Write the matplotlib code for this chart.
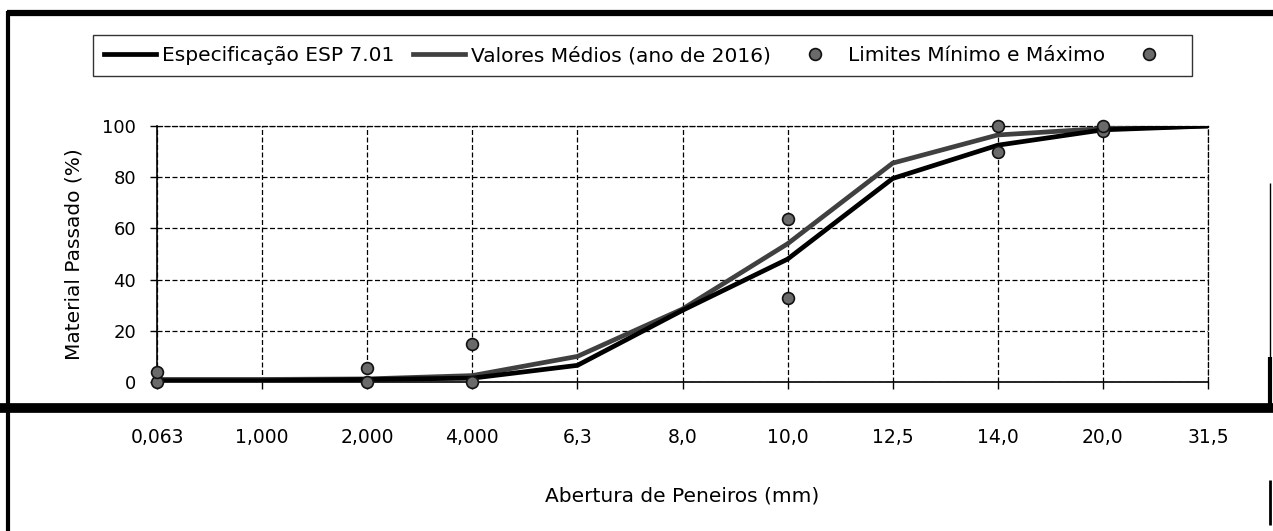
import matplotlib
matplotlib.use("Agg")
import matplotlib.pyplot as plt
from matplotlib.lines import Line2D
import numpy as np

# Sieve openings (categorical axis)
peneiros = ["0,063", "1,000", "2,000", "4,000", "6,3", "8,0", "10,0", "12,5", "14,0", "20,0", "31,5"]

# Grading curves (% passing)
especificacao = [0.5, 0.5, 1.0, 1.5, 6.5, 28.0, 48.0, 79.5, 92.5, 98.5, 100.0]
valores_medios = [1.0, 1.0, 1.2, 2.5, 10.0, 28.5, 54.0, 85.5, 96.5, 99.0, 100.0]

# Min / max limits (None where no limit is given)
limite_min = [0.0, None, 0.0, 0.0, None, None, 33.0, None, 90.0, 98.0, None]
limite_max = [4.0, None, 5.5, 15.0, None, None, 63.5, None, 100.0, 100.0, None]

W, H, DPI = 1273, 531, 100
fig = plt.figure(figsize=(W / DPI, H / DPI), dpi=DPI)
plt.rcParams["font.family"] = ["DejaVu Sans"]

# axes placed in pixel terms
x0, x1, ytop, ybot = 157, 1208, 126, 382
ax = fig.add_axes([x0 / W, 1 - ybot / H, (x1 - x0) / W, (ybot - ytop) / H])

x = np.arange(len(peneiros))

h1, = ax.plot(x, especificacao, color="black", lw=3.4, zorder=4, solid_joinstyle="miter")
h2, = ax.plot(x, valores_medios, color="#404040", lw=3.4, zorder=3, solid_joinstyle="miter")

def pts(vals):
    xs = [i for i, v in enumerate(vals) if v is not None]
    ys = [v for v in vals if v is not None]
    return xs, ys

xm, ym = pts(limite_min)
xM, yM = pts(limite_max)
mk = dict(marker="o", linestyle="none", markersize=8.5, markerfacecolor="#6a6a6a",
          markeredgecolor="#111111", markeredgewidth=1.2, zorder=5, clip_on=False)
h3, = ax.plot(xm, ym, **mk)
h4, = ax.plot(xM, yM, **mk)

ax.set_xlim(0, len(peneiros) - 1)
ax.set_ylim(0, 100)
ax.set_xticks(x)
ax.set_xticklabels(peneiros)
ax.set_yticks([0, 20, 40, 60, 80, 100])

dash = (0, (4, 2))
ax.grid(True, color="black", linestyle=dash, linewidth=0.9)
ax.set_axisbelow(True)
for side in ("top", "right"):
    ax.spines[side].set_linestyle(dash)
    ax.spines[side].set_linewidth(0.9)
ax.spines["left"].set_linewidth(1.2)
ax.spines["bottom"].set_linewidth(1.2)

ax.tick_params(axis="x", direction="out", length=5, width=1, labelsize=13.5, pad=28)
ax.tick_params(axis="y", direction="out", length=5, width=1, labelsize=13, pad=10)

ax.set_xlabel("Abertura de Peneiros (mm)", fontsize=14.5)
ax.xaxis.set_label_coords(0.5, (ybot - 487) / (ybot - ytop))
ax.set_ylabel("Material Passado (%)", fontsize=14.5)
ax.yaxis.set_label_coords((83 - x0) / (x1 - x0), 0.5)

leg = fig.legend([h1, h2, h3, h4],
                 ["Especificação ESP 7.01", "Valores Médios (ano de 2016)",
                  "Limites Mínimo e Máximo", ""],
                 loc="center", bbox_to_anchor=((95 + 1190) / 2 / W, 1 - 55.5 / H),
                 ncol=4, fontsize=14.5, frameon=True, fancybox=False, handlelength=2.6,
                 handletextpad=0.3, columnspacing=0.9, borderpad=0.55)
leg.get_frame().set_edgecolor("black")
leg.get_frame().set_linewidth(1.0)

# page frame lines around the chart
def fline(xa, ya, lw):
    fig.add_artist(Line2D([v / W for v in xa], [1 - v / H for v in ya],
                          color="black", linewidth=lw, solid_capstyle="butt"))

fline([7, W], [13, 13], 4.5)
fline([0, W], [407.5, 407.5], 7.0)
fline([8, 8], [11, H], 3.0)
fline([1270, 1270], [183, 357], 1.0)
fline([1270, 1270], [357, 405], 3.0)
fline([1270, 1270], [480, 525], 2.0)

fig.savefig("out.png", dpi=DPI)
